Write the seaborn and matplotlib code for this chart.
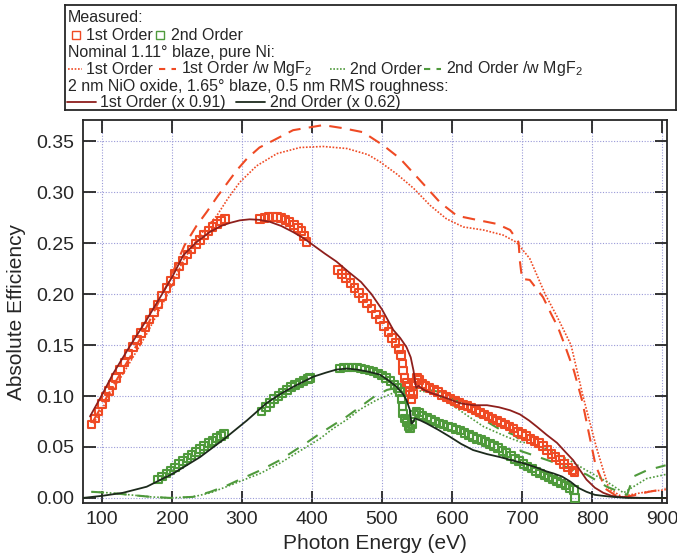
import matplotlib
matplotlib.use("Agg")
import matplotlib.pyplot as plt
import seaborn as sns

# measured, 1st order (three segments)
m1_e = [85, 90, 95, 100, 105, 110, 115, 120, 126, 132, 138, 144, 150, 156, 162, 168, 174, 180, 186, 192,
        198, 204, 210, 216, 222, 228, 234, 240, 246, 252, 258, 264, 270, 276,
        326, 332, 338, 344, 350, 356, 362, 368, 374, 380, 385, 389, 392,
        437, 443, 449, 455, 461, 467, 473, 479, 485, 491, 497, 503, 509, 514, 519, 524, 527, 529, 530,
        532, 535, 538, 540, 542, 544, 547, 550, 553, 557, 562, 568, 574, 580, 586, 592, 598, 604, 610,
        616, 622, 628, 634, 640, 646, 652, 658, 664, 670, 676, 682, 688, 694, 700, 706, 712, 718, 724,
        730, 736, 742, 748, 754, 760, 766, 772, 775]
m1_y = [0.072, 0.078, 0.085, 0.092, 0.099, 0.105, 0.111, 0.118, 0.126, 0.133, 0.141, 0.148, 0.155, 0.162,
        0.168, 0.175, 0.182, 0.190, 0.198, 0.206, 0.213, 0.220, 0.227, 0.233, 0.239, 0.244, 0.249, 0.253,
        0.258, 0.262, 0.266, 0.269, 0.272, 0.274,
        0.274, 0.275, 0.276, 0.276, 0.276, 0.275, 0.273, 0.271, 0.268, 0.265, 0.262, 0.257, 0.251,
        0.224, 0.220, 0.216, 0.211, 0.206, 0.201, 0.196, 0.191, 0.186, 0.180, 0.175, 0.169, 0.163, 0.157,
        0.152, 0.146, 0.140, 0.132, 0.125, 0.118, 0.113, 0.109, 0.104, 0.097, 0.102, 0.113, 0.118, 0.116,
        0.112, 0.110, 0.108, 0.106, 0.104, 0.101, 0.099, 0.097, 0.095, 0.093, 0.091, 0.090, 0.088, 0.086,
        0.084, 0.082, 0.080, 0.078, 0.076, 0.074, 0.072, 0.070, 0.068, 0.065, 0.063, 0.061, 0.058, 0.056,
        0.054, 0.051, 0.047, 0.043, 0.040, 0.037, 0.033, 0.030, 0.027, 0.025]

# measured, 2nd order
m2_e = [180, 186, 192, 198, 204, 210, 216, 222, 228, 234, 240, 246, 252, 258, 264, 270, 274,
        328, 334, 340, 346, 352, 358, 364, 370, 376, 382, 388, 394, 397,
        440, 446, 452, 458, 464, 470, 476, 482, 488, 494, 500, 506, 512, 518, 522, 526, 528, 529, 530,
        532, 535, 538, 540, 543, 546, 549, 553, 558, 564, 570, 576, 582, 588, 594, 600, 606, 612, 618,
        624, 630, 636, 642, 648, 654, 660, 666, 672, 678, 684, 690, 696, 702, 708, 714, 720, 726, 732,
        738, 744, 750, 756, 762, 768, 774, 776]
m2_y = [0.018, 0.021, 0.024, 0.027, 0.030, 0.033, 0.036, 0.039, 0.042, 0.045, 0.048, 0.051, 0.054, 0.056,
        0.059, 0.061, 0.063,
        0.085, 0.089, 0.093, 0.097, 0.100, 0.103, 0.106, 0.109, 0.111, 0.113, 0.115, 0.117, 0.118,
        0.127, 0.128, 0.128, 0.128, 0.128, 0.127, 0.126, 0.125, 0.124, 0.122, 0.120, 0.118, 0.115, 0.111,
        0.108, 0.104, 0.097, 0.090, 0.083, 0.078, 0.074, 0.070, 0.068, 0.072, 0.082, 0.085, 0.084, 0.081,
        0.079, 0.077, 0.075, 0.073, 0.072, 0.070, 0.069, 0.067, 0.066, 0.064, 0.062, 0.060, 0.058, 0.057,
        0.055, 0.053, 0.051, 0.049, 0.046, 0.044, 0.041, 0.038, 0.036, 0.033, 0.031, 0.029, 0.026, 0.024,
        0.022, 0.020, 0.018, 0.016, 0.014, 0.012, 0.010, 0.008, 0.000]

# nominal 1.11 deg blaze, pure Ni
n1_e = [88, 116, 140, 164, 197, 216, 240, 264, 280, 297, 321, 350, 383, 416, 450, 480, 497, 521, 545, 569,
        592, 616, 645, 673, 692, 711, 733, 750, 770, 787, 806, 824, 843, 854, 878, 905]
n1_y = [0.073, 0.106, 0.133, 0.161, 0.204, 0.233, 0.258, 0.277, 0.294, 0.310, 0.326, 0.338, 0.344, 0.345,
        0.343, 0.337, 0.330, 0.318, 0.304, 0.287, 0.274, 0.266, 0.263, 0.258, 0.251, 0.235, 0.200, 0.178,
        0.150, 0.100, 0.050, 0.009, 0.001, 0.003, 0.006, 0.008]
n1mg_e = [88, 116, 140, 164, 197, 218, 235, 250, 265, 280, 293, 307, 325, 345, 373, 416, 444, 473, 502, 526,
          554, 583, 607, 635, 664, 683, 695, 697, 700, 711, 730, 742, 751, 761, 774, 786, 795, 805, 819, 839,
          863, 881, 905]
n1mg_y = [0.076, 0.110, 0.138, 0.168, 0.215, 0.248, 0.267, 0.281, 0.296, 0.310, 0.322, 0.333, 0.344, 0.351,
          0.361, 0.366, 0.363, 0.359, 0.346, 0.333, 0.312, 0.290, 0.277, 0.273, 0.269, 0.263, 0.251, 0.232,
          0.215, 0.214, 0.197, 0.180, 0.168, 0.150, 0.125, 0.095, 0.065, 0.032, 0.009, 0.000, 0.003, 0.006,
          0.009]
n2_e = [85, 110, 140, 170, 197, 230, 255, 278, 300, 326, 354, 392, 411, 430, 450, 469, 492, 516, 545, 573,
        592, 611, 630, 645, 678, 697, 716, 745, 770, 792, 821, 845, 859, 878, 905]
n2_y = [0.006, 0.005, 0.003, 0.001, 0.000, 0.001, 0.005, 0.011, 0.017, 0.024, 0.034, 0.050, 0.058, 0.068,
        0.077, 0.087, 0.096, 0.103, 0.106, 0.103, 0.095, 0.086, 0.077, 0.070, 0.060, 0.055, 0.053, 0.045,
        0.036, 0.027, 0.016, 0.005, 0.011, 0.019, 0.023]
n2mg_e = [85, 110, 140, 170, 197, 230, 255, 278, 300, 326, 354, 392, 411, 450, 488, 507, 526, 550, 583, 611,
          635, 669, 688, 695, 698, 707, 745, 792, 821, 850, 859, 878, 905]
n2mg_y = [0.006, 0.005, 0.003, 0.001, 0.000, 0.001, 0.006, 0.012, 0.019, 0.027, 0.037, 0.054, 0.063, 0.080,
          0.099, 0.106, 0.109, 0.108, 0.104, 0.094, 0.081, 0.067, 0.062, 0.058, 0.046, 0.044, 0.035, 0.023,
          0.011, 0.003, 0.021, 0.027, 0.032]

# 2 nm NiO oxide, 1.65 deg blaze, 0.5 nm RMS roughness (scaled)
ox1_e = [83, 100, 116, 140, 164, 185, 202, 216, 235, 254, 270, 283, 297, 311, 325, 340, 356, 373, 388, 402,
         418, 435, 452, 470, 485, 500, 516, 526, 535, 541, 545, 547, 549, 552, 560, 570, 588, 611, 630, 650,
         667, 683, 697, 710, 721, 735, 750, 762, 773, 782, 792, 804, 816, 828, 840, 870, 905]
ox1_y = [0.080, 0.101, 0.122, 0.149, 0.175, 0.199, 0.219, 0.238, 0.251, 0.261, 0.267, 0.270, 0.2725, 0.2735,
         0.273, 0.271, 0.267, 0.261, 0.255, 0.248, 0.240, 0.232, 0.222, 0.212, 0.200, 0.185, 0.165, 0.157,
         0.148, 0.138, 0.125, 0.115, 0.108, 0.110, 0.106, 0.103, 0.099, 0.093, 0.091, 0.091, 0.089, 0.086,
         0.082, 0.076, 0.070, 0.062, 0.054, 0.045, 0.037, 0.028, 0.018, 0.010, 0.005, 0.002, 0.001, 0.0, 0.0]
ox2_e = [73, 100, 130, 164, 202, 240, 273, 307, 335, 355, 373, 402, 420, 435, 450, 464, 480, 497, 510, 521,
         530, 535, 540, 542, 544, 547, 555, 564, 580, 597, 613, 630, 650, 669, 685, 702, 720, 735, 745, 757,
         769, 780, 792, 804, 816, 830, 850, 905]
ox2_y = [0.0, 0.002, 0.005, 0.011, 0.024, 0.040, 0.057, 0.076, 0.093, 0.102, 0.109, 0.119, 0.123, 0.126,
         0.127, 0.126, 0.124, 0.121, 0.115, 0.109, 0.102, 0.096, 0.086, 0.073, 0.074, 0.078, 0.076, 0.073,
         0.067, 0.060, 0.053, 0.047, 0.043, 0.040, 0.037, 0.034, 0.030, 0.026, 0.024, 0.021, 0.016, 0.010,
         0.006, 0.003, 0.002, 0.001, 0.0, 0.0]

RED = "#ef4a24"
DKRED = "#8e1f1c"
GREEN = "#4f9a3c"
BLACK = "#1c2a1c"

sns.set_style("ticks")
plt.rcParams["font.family"] = ["Liberation Sans", "DejaVu Sans"]
plt.rcParams["mathtext.fontset"] = "custom"
plt.rcParams["mathtext.rm"] = "Liberation Sans"

fig = plt.figure(figsize=(6.77, 5.59), dpi=100)
ax = fig.add_axes([83 / 677, 1 - 503 / 559, 584 / 677, 383 / 559])

sns.lineplot(x=n1_e, y=n1_y, ax=ax, color=RED, lw=1.2, linestyle=(0, (1, 1)))
sns.lineplot(x=n1mg_e, y=n1mg_y, ax=ax, color=RED, lw=1.5, linestyle=(0, (6, 4)))
sns.lineplot(x=n2_e, y=n2_y, ax=ax, color=GREEN, lw=1.2, linestyle=(0, (1, 1.2)))
sns.lineplot(x=n2mg_e, y=n2mg_y, ax=ax, color=GREEN, lw=1.5, linestyle=(0, (6, 5)))

sns.scatterplot(x=m1_e, y=m1_y, ax=ax, marker="s", s=30, facecolors="none", edgecolors=RED,
                linewidths=1.5, zorder=3)
sns.scatterplot(x=m2_e, y=m2_y, ax=ax, marker="s", s=30, facecolors="none", edgecolors=GREEN,
                linewidths=1.5, zorder=3)

sns.lineplot(x=ox1_e, y=ox1_y, ax=ax, color=DKRED, lw=1.3, zorder=4)
sns.lineplot(x=ox2_e, y=ox2_y, ax=ax, color=BLACK, lw=1.3, zorder=4)

ax.set_xlim(73, 907)
ax.set_ylim(-0.005, 0.371)
ax.set_xticks([100, 200, 300, 400, 500, 600, 700, 800, 900])
ax.set_yticks([0.0, 0.05, 0.10, 0.15, 0.20, 0.25, 0.30, 0.35])
ax.set_yticklabels(["0.00", "0.05", "0.10", "0.15", "0.20", "0.25", "0.30", "0.35"])
ax.grid(True, linestyle=(0, (1, 1.5)), color="#9a9ad8", lw=0.8)
ax.tick_params(direction="in", length=9, width=1.3, top=True, right=True, labelsize=14, pad=6)
for sp in ax.spines.values():
    sp.set_linewidth(1.3)
ax.set_xlabel("Photon Energy (eV)", fontsize=15, labelpad=4)
ax.set_ylabel("Absolute Efficiency", fontsize=15, labelpad=8)

# legend box drawn by hand in pixel-like coordinates
lax = fig.add_axes([65 / 677, 1 - 110 / 559, 611 / 677, 105 / 559])
lax.set_xlim(65, 676)
lax.set_ylim(110, 5)
lax.set_xticks([])
lax.set_yticks([])
for sp in lax.spines.values():
    sp.set_linewidth(1.3)
fs = 11.5
lax.text(68, 17, "Measured:", fontsize=fs, va="center")
lax.plot([76], [35], "s", mfc="none", mec=RED, ms=6, mew=1)
lax.text(86, 35, "1st Order", fontsize=fs, va="center")
lax.plot([160], [35], "s", mfc="none", mec=GREEN, ms=6, mew=1)
lax.text(171, 35, "2nd Order", fontsize=fs, va="center")
lax.text(68, 52, "Nominal 1.11° blaze, pure Ni:", fontsize=fs, va="center")
lax.plot([68, 82], [69, 69], color=RED, lw=1.2, linestyle=(0, (1, 1)))
lax.text(86, 69, "1st Order", fontsize=fs, va="center")
lax.plot([159, 176], [69, 69], color=RED, lw=1.5, linestyle=(0, (3, 3)))
lax.text(181, 69, "1st Order /w MgF$_2$", fontsize=fs, va="center")
lax.plot([330, 345], [69, 69], color=GREEN, lw=1.2, linestyle=(0, (1, 1)))
lax.text(350, 69, "2nd Order", fontsize=fs, va="center")
lax.plot([424, 441], [69, 69], color=GREEN, lw=1.5, linestyle=(0, (3, 3)))
lax.text(446, 69, "2nd Order /w MgF$_2$", fontsize=fs, va="center")
lax.text(68, 86, "2 nm NiO oxide, 1.65° blaze, 0.5 nm RMS roughness:", fontsize=fs, va="center")
lax.plot([67, 96], [102, 102], color=DKRED, lw=1.3)
lax.text(100, 102, "1st Order (x 0.91)", fontsize=fs, va="center")
lax.plot([236, 265], [102, 102], color=BLACK, lw=1.3)
lax.text(270, 102, "2nd Order (x 0.62)", fontsize=fs, va="center")

fig.savefig("out.png", dpi=100)
